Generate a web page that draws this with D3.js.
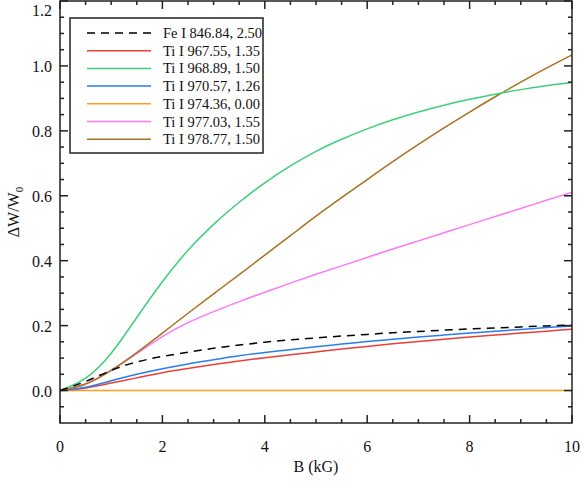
<!DOCTYPE html>
<html><head><meta charset="utf-8">
<script src="https://cdn.jsdelivr.net/npm/d3@7"></script>
<style>body{margin:0;background:#fff}svg{display:block}text{font-family:"Liberation Serif","DejaVu Serif",serif;fill:#111}</style>
</head><body><svg id="c" width="581" height="481"></svg>
<script>
const B = [0,0.5,1,1.5,2,2.5,3,3.5,4,4.5,5,5.5,6,6.5,7,7.5,8,8.5,9,9.5,10];
const feI846 = [0,0.028,0.062,0.088,0.105,0.118,0.13,0.14,0.149,0.156,0.162,0.168,0.173,0.178,0.182,0.186,0.19,0.193,0.196,0.199,0.202];
const tiI967 = [0,0.008,0.023,0.039,0.055,0.068,0.08,0.091,0.101,0.11,0.119,0.128,0.136,0.144,0.151,0.158,0.165,0.171,0.177,0.183,0.189];
const tiI968 = [0,0.038,0.115,0.225,0.335,0.432,0.512,0.58,0.64,0.692,0.737,0.774,0.806,0.834,0.858,0.879,0.897,0.913,0.927,0.939,0.949];
const tiI970 = [0,0.01,0.03,0.05,0.067,0.082,0.095,0.107,0.117,0.126,0.135,0.143,0.151,0.158,0.165,0.171,0.177,0.183,0.188,0.194,0.199];
const tiI974 = [0,0,0,0,0,0,0,0,0,0,0,0,0,0,0,0,0,0,0,0,0];
const tiI977 = [0,0.02,0.063,0.114,0.166,0.209,0.243,0.274,0.303,0.331,0.358,0.384,0.41,0.436,0.461,0.486,0.511,0.536,0.561,0.586,0.611];
const tiI978 = [0,0.02,0.062,0.117,0.177,0.238,0.298,0.357,0.417,0.477,0.537,0.594,0.65,0.705,0.758,0.809,0.858,0.905,0.95,0.993,1.034];
const labels = ["Fe I 846.84, 2.50","Ti I 967.55, 1.35","Ti I 968.89, 1.50","Ti I 970.57, 1.26","Ti I 974.36, 0.00","Ti I 977.03, 1.55","Ti I 978.77, 1.50"];
const colors = ["#000000","#e8403a","#3ecf78","#2a7cf2","#ffa11c","#ff78f4","#a8711f"];
const xTicks = [0,2,4,6,8,10];
const yTicks = [0,0.2,0.4,0.6,0.8,1.0,1.2];

const series = [feI846,tiI967,tiI968,tiI970,tiI974,tiI977,tiI978];
const svg = d3.select("#c");
const L=60,R=572,T=1,Bt=423;
const x = d3.scaleLinear().domain([0,10]).range([L,R]);
const y = d3.scaleLinear().domain([-0.1,1.2]).range([Bt,T]);

const line = d3.line().x((d,i)=>x(B[i])).y(d=>y(d)).curve(d3.curveNatural);
const order=[4,1,3,5,6,2,0];
order.forEach(k=>{
  svg.append("path").datum(series[k]).attr("d",line).attr("fill","none")
    .attr("stroke",colors[k]).attr("stroke-width",1.5)
    .attr("stroke-dasharray",k===0?"8,6":null);
});

const ax="#222";
const g=svg.append("g");
g.append("rect").attr("x",L).attr("y",T).attr("width",R-L).attr("height",Bt-T)
  .attr("fill","none").attr("stroke",ax).attr("stroke-width",1.5);
d3.range(0,10.01,0.5).forEach(v=>{
  const major = Math.abs(v%2)<1e-6; const len = major?8:4;
  g.append("line").attr("x1",x(v)).attr("x2",x(v)).attr("y1",Bt).attr("y2",Bt-len).attr("stroke",ax).attr("stroke-width",1.5);
  g.append("line").attr("x1",x(v)).attr("x2",x(v)).attr("y1",T).attr("y2",T+len).attr("stroke",ax).attr("stroke-width",1.5);
});
xTicks.forEach(v=>{
  g.append("text").attr("x",x(v)).attr("y",Bt+29).attr("text-anchor","middle").attr("font-size",16).text(d3.format("d")(v));
});
d3.range(-0.05,1.2001,0.05).forEach(v=>{
  const major = Math.abs(Math.round(v*5)-v*5)<1e-6; const len=major?8:4;
  g.append("line").attr("x1",L).attr("x2",L+len).attr("y1",y(v)).attr("y2",y(v)).attr("stroke",ax).attr("stroke-width",1.5);
  g.append("line").attr("x1",R).attr("x2",R-len).attr("y1",y(v)).attr("y2",y(v)).attr("stroke",ax).attr("stroke-width",1.5);
});
yTicks.forEach(v=>{
  g.append("text").attr("x",L-8).attr("y",Math.max(y(v)+6,15.5)).attr("text-anchor","end").attr("font-size",16).text(d3.format(".1f")(v));
});
g.append("text").attr("x",(L+R)/2).attr("y",472).attr("text-anchor","middle").attr("font-size",16).text("B (kG)");
const yt=g.append("text").attr("transform","translate(19,212) rotate(-90)").attr("text-anchor","middle").attr("font-size",16);
yt.append("tspan").text("ΔW/W");
yt.append("tspan").attr("font-size",11).attr("dy",4).text("0");

const lg=svg.append("g");
lg.append("rect").attr("x",70).attr("y",18).attr("width",193).attr("height",135)
  .attr("fill","#fff").attr("stroke",ax).attr("stroke-width",1.5);
labels.forEach((t,i)=>{
  const yy=33+i*17.7;
  lg.append("line").attr("x1",87).attr("x2",151).attr("y1",yy).attr("y2",yy)
    .attr("stroke",colors[i]).attr("stroke-width",1.5).attr("stroke-dasharray",i===0?"8,6":null);
  lg.append("text").attr("x",163).attr("y",yy+5).attr("font-size",14.5).text(t);
});
</script></body></html>
